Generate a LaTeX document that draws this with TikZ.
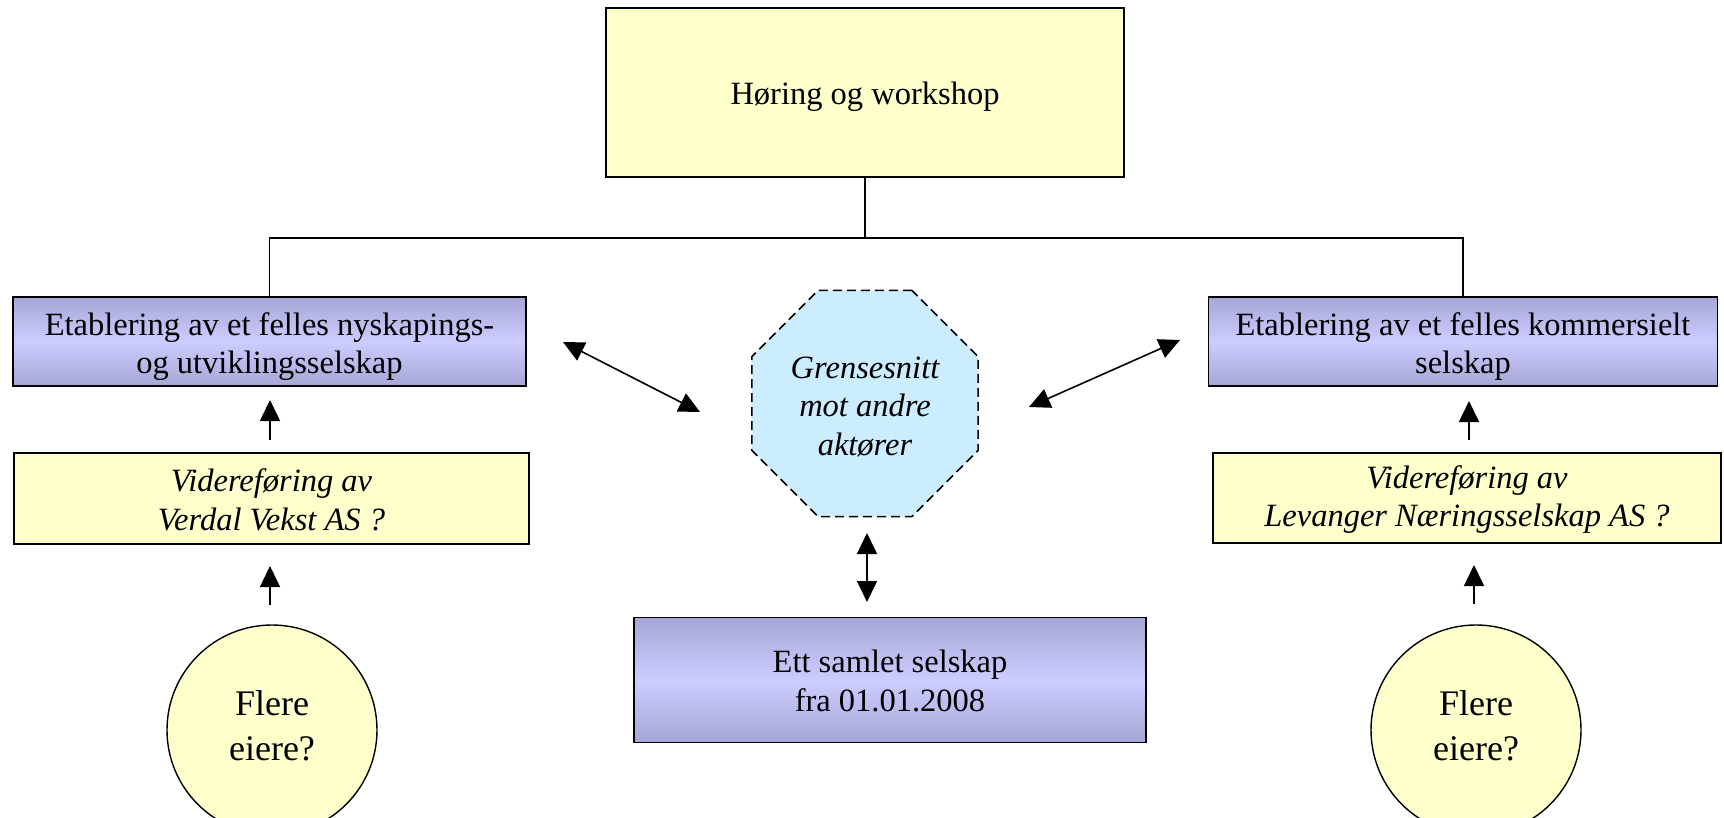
\documentclass[tikz,border=0pt]{standalone}
\usepackage{fontspec}
\setmainfont{Liberation Serif}
\usetikzlibrary{shapes.geometric,arrows.meta}
\definecolor{yel}{HTML}{FFFFCC}
\definecolor{blu}{HTML}{CCECFF}
\definecolor{plight}{HTML}{CCCCFF}
\definecolor{pdark}{HTML}{A6A6D6}
\begin{document}
\begin{tikzpicture}[x=1pt,y=-1pt,
  box/.style={draw, line width=1.6pt, inner sep=0pt, align=center,
    font=\fontsize{32.5}{38.5}\selectfont},
  ybox/.style={box, fill=yel},
  pbox/.style={box, top color=pdark, bottom color=pdark, middle color=plight},
  txt/.style={inner sep=0pt, align=center, font=\fontsize{32.5}{38.5}\selectfont},
  itxt/.style={txt, font=\fontsize{32.5}{38.5}\selectfont\itshape},
  arr/.style={line width=1.6pt, -{Triangle[length=21pt,width=20pt]}},
  darr/.style={line width=1.6pt, {Triangle[length=21pt,width=20pt]}-{Triangle[length=21pt,width=20pt]}},
  ring/.style={circle, draw, line width=1.4pt, fill=yel, minimum size=210pt, inner sep=0pt},
  rtxt/.style={inner sep=0pt, align=center, font=\fontsize{36}{45}\selectfont}
]
\useasboundingbox (0,0) rectangle (1724,818);
\clip (0,0) rectangle (1724,818);

\node[ybox, minimum width=518pt, minimum height=169pt] (top) at (865,92.5) {};
\node[txt] (topt) at ([yshift=-4.5pt]top.center) {Høring og workshop};

\node[pbox, minimum width=513pt, minimum height=89pt] (lp) at (269.5,341.5) {};
\node[txt] (lpt) at ([yshift=-5pt]lp.center) {Etablering av et felles nyskapings-\\og utviklingsselskap};
\node[pbox, minimum width=509pt, minimum height=89pt] (rp) at (1463,341.5) {};
\node[txt] (rpt) at ([yshift=-5pt]rp.center) {Etablering av et felles kommersielt\\selskap};

\node[ybox, minimum width=515pt, minimum height=91pt] (ly) at (271.5,498.5) {};
\node[itxt] (lyt) at ([yshift=-1.5pt]ly.center) {Videreføring av\\Verdal Vekst AS ?};
\node[ybox, minimum width=508pt, minimum height=90pt] (ry) at (1467,498) {};
\node[itxt] (ryt) at ([yshift=-1.5pt]ry.center) {Videreføring av\\Levanger Næringsselskap AS ?};

\node[regular polygon, regular polygon sides=8, draw, line width=1.5pt,
  dash pattern=on 9pt off 5pt, fill=blu, minimum size=245pt, inner sep=0pt] (oct) at (865,403.5) {};
\node[itxt] (octt) at ([yshift=-3pt]oct.center) {Grensesnitt\\mot andre\\aktører};

\node[pbox, minimum width=512pt, minimum height=125pt] (bot) at (890,680) {};
\node[txt] (bott) at ([yshift=-1pt]bot.center) {Ett samlet selskap\\fra 01.01.2008};

\node[ring] (lc) at (272,730) {};
\node[rtxt] (lct) at ([yshift=4pt]lc.center) {Flere\\eiere?};
\node[ring] (rc) at (1476,730) {};
\node[rtxt] (rct) at ([yshift=4pt]rc.center) {Flere\\eiere?};

% tree connector
\coordinate (j) at (865,238);
\draw[line width=1.4pt] (top.south) -- (j);
\draw[line width=1.4pt] (j) -| (lp.north);
\draw[line width=1.4pt] (j) -| (rp.north);

% small arrows
\coordinate (a1s) at (270,440); \coordinate (a1e) at (270,400);
\coordinate (a2s) at (270,605); \coordinate (a2e) at (270,566);
\coordinate (a3s) at (1469,440); \coordinate (a3e) at (1469,401);
\coordinate (a4s) at (1474,604); \coordinate (a4e) at (1474,565);
\draw[arr] (a1s) -- (a1e);
\draw[arr] (a2s) -- (a2e);
\draw[arr] (a3s) -- (a3e);
\draw[arr] (a4s) -- (a4e);

% double arrows
\coordinate (d1a) at (563,342); \coordinate (d1b) at (700,412);
\coordinate (d2a) at (1029,407); \coordinate (d2b) at (1180,340);
\coordinate (d3a) at (867,533); \coordinate (d3b) at (867,602);
\draw[darr] (d1a) -- (d1b);
\draw[darr] (d2a) -- (d2b);
\draw[darr] (d3a) -- (d3b);
\end{tikzpicture}
\end{document}
